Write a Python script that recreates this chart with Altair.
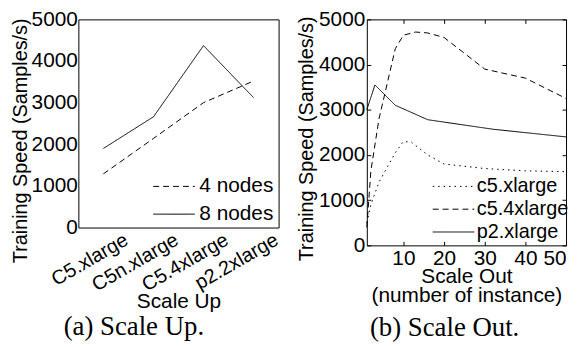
import altair as alt
import pandas as pd

FONT = "Liberation Sans"
SERIF = "Liberation Serif"

# ---- (a) Scale Up ----
categories = ["C5.xlarge", "C5n.xlarge", "C5.4xlarge", "p2.2xlarge"]
nodes4 = [1290, 2140, 3000, 3520]
nodes8 = [1900, 2660, 4370, 3120]
left_series = ["4 nodes", "8 nodes"]

# ---- (b) Scale Out ----
c5x_x = [1, 2, 4, 8, 10, 12, 16, 20, 30, 40, 50]
c5x_y = [500, 900, 1400, 2050, 2300, 2280, 2000, 1800, 1700, 1650, 1630]
c54x_x = [1, 2, 4, 8, 10, 13, 16, 20, 30, 40, 50]
c54x_y = [400, 1650, 2800, 4350, 4650, 4720, 4700, 4600, 3900, 3700, 3250]
p2x_x = [1, 3, 8, 16, 32, 50]
p2x_y = [3000, 3550, 3100, 2780, 2570, 2400]
right_series = ["c5.xlarge", "c5.4xlarge", "p2.xlarge"]

y_ticks = [0, 1000, 2000, 3000, 4000, 5000]
x_ticks = [10, 20, 30, 40, 50]

left_df = pd.DataFrame(
    [{"category": c, "series": "4 nodes", "value": v} for c, v in zip(categories, nodes4)]
    + [{"category": c, "series": "8 nodes", "value": v} for c, v in zip(categories, nodes8)]
)
right_df = pd.DataFrame(
    [{"n": x, "series": "c5.xlarge", "value": v} for x, v in zip(c5x_x, c5x_y)]
    + [{"n": x, "series": "c5.4xlarge", "value": v} for x, v in zip(c54x_x, c54x_y)]
    + [{"n": x, "series": "p2.xlarge", "value": v} for x, v in zip(p2x_x, p2x_y)]
)

def legend(x, y, rowpad, fs, loff):
    return alt.Legend(
        orient="none", legendX=x, legendY=y, title=None,
        symbolType="M-2.1,0H2.1", symbolSize=400, symbolStrokeColor="black",
        symbolFillColor="transparent",
        symbolStrokeWidth=1, labelFont=FONT, labelFontSize=fs,
        labelColor="black", rowPadding=rowpad, labelOffset=loff, padding=0,
    )

ytitle = "Training Speed (Samples/s)"

left = alt.Chart(left_df).mark_line(color="black", strokeWidth=1).encode(
    x=alt.X("category:N", sort=categories,
            scale=alt.Scale(domain=categories, padding=0.5),
            axis=alt.Axis(title="Scale Up", labelAngle=-30, ticks=False, domain=False,
                          labelAlign="right", labelBaseline="top", labelOffset=18,
                          labelFontSize=20, labelPadding=2, titlePadding=-4)),
    y=alt.Y("value:Q", scale=alt.Scale(domain=[0, 5000], nice=False),
            axis=alt.Axis(values=y_ticks, format="d", ticks=False, domain=False,
                          title=ytitle, titleFontSize=20, titleY=122,
                          labelPadding=1, titlePadding=1)),
    strokeDash=alt.StrokeDash("series:N",
                              scale=alt.Scale(domain=left_series, range=[[6, 4], [1, 0]]),
                              legend=legend(86, 158, 6, 21, 15)),
).properties(
    width=202, height=210,
    title=alt.TitleParams("(a) Scale Up.", orient="bottom", font=SERIF, fontSize=27,
                          fontWeight="normal", color="black", offset=3, frame="group",
                          dx=-45),
)

r_lines = alt.Chart(right_df).mark_line(color="black", strokeWidth=1).encode(
    x=alt.X("n:Q", scale=alt.Scale(domain=[1, 50], nice=False),
            axis=alt.Axis(title=["Scale Out", "(number of instance)"], values=x_ticks,
                          tickSize=4, offset=-4, domain=False, labelPadding=2,
                          titlePadding=-3, titleLineHeight=20)),
    y=alt.Y("value:Q", scale=alt.Scale(domain=[0, 5000], nice=False),
            axis=alt.Axis(values=y_ticks, format="d", tickSize=4, offset=-4, domain=False,
                          title=ytitle, titleFontSize=20, titleY=120,
                          labelPadding=2, titlePadding=2)),
    strokeDash=alt.StrokeDash("series:N",
                              scale=alt.Scale(domain=right_series,
                                              range=[[1.5, 4], [6, 4], [1, 0]]),
                              legend=legend(77, 158, 2, 20, 13)),
)
r_ticks = alt.Chart(right_df).mark_line(opacity=0).encode(
    x=alt.X("n:Q", axis=alt.Axis(orient="top", values=x_ticks, tickSize=4, offset=-4,
                                 domain=False, labels=False, title=None)),
    y=alt.Y("value:Q", axis=alt.Axis(orient="right", values=y_ticks, tickSize=4,
                                     offset=-4, domain=False, labels=False, title=None)),
    detail="series:N",
)
right = alt.layer(r_lines, r_ticks).resolve_axis(x="independent", y="independent").properties(
    width=201, height=228,
    title=alt.TitleParams("(b) Scale Out.", orient="bottom", font=SERIF, fontSize=27,
                          fontWeight="normal", color="black", offset=9, frame="group",
                          dx=-22),
)

chart = alt.hconcat(left, right, spacing=13).resolve_scale(
    strokeDash="independent"
).resolve_legend(strokeDash="independent").configure(
    padding={"left": 1, "top": -2, "right": 0, "bottom": 0}
).configure_view(stroke="black", strokeWidth=1).configure_axis(
    labelFont=FONT, labelFontSize=21, labelColor="black",
    titleFont=FONT, titleFontSize=21, titleFontWeight="normal", titleColor="black",
    tickColor="black", grid=False,
)

chart.save("out.html", embed_options={"renderer": "svg", "actions": False})
